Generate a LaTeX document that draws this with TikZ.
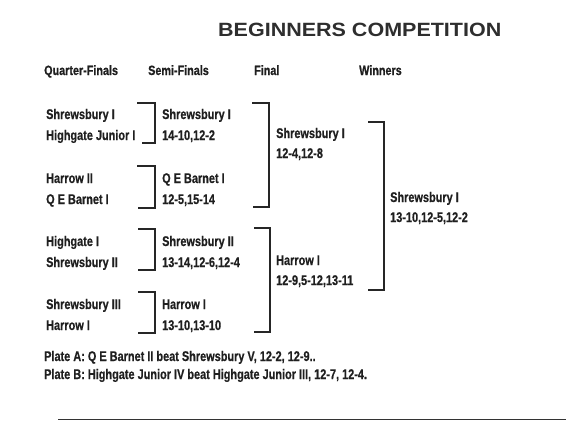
\documentclass[tikz,border=0pt]{standalone}
\usepackage{fontspec}
\setmainfont{Liberation Sans}
\newfontfamily\condfont[FakeStretch=0.78, FakeBold=0.5]{Liberation Sans}
\newfontfamily\headfont[FakeStretch=0.80, FakeBold=0.8]{Liberation Sans}
\newfontfamily\titlefont[FakeStretch=1.12]{Liberation Sans}
\usetikzlibrary{positioning}

\begin{document}
\begin{tikzpicture}[x=1pt, y=-1pt,
  team/.style    = {anchor=base west, inner sep=0pt, text=black!88,
                    font=\condfont\bfseries\fontsize{14}{16}\selectfont},
  colhead/.style = {anchor=base west, inner sep=0pt, text=black!88,
                    font=\headfont\bfseries\fontsize{13.5}{15}\selectfont},
  title/.style   = {anchor=base west, inner sep=0pt, text=black!82,
                    font=\titlefont\bfseries\fontsize{19.2}{21}\selectfont},
  bracket/.style = {line width=1.1pt, black!85}
]
\useasboundingbox (0,0) rectangle (566,431);

% title and column heads
\node[title]   (heading) at (218,37) {BEGINNERS COMPETITION};
\node[colhead] (hqf)     at (44,75)  {Quarter-Finals};
\node[colhead] (hsf)     at (148,75) {Semi-Finals};
\node[colhead] (hfin)    at (254,75) {Final};
\node[colhead] (hwin)    at (359,75) {Winners};

% quarter-finals
\node[team] (qa1) at (46,119) {Shrewsbury I};
\node[team] (qa2) at (46,140) {Highgate Junior I};
\node[team] (qb1) at (46,183) {Harrow II};
\node[team] (qb2) at (46,204) {Q E Barnet I};
\node[team] (qc1) at (46,246) {Highgate I};
\node[team] (qc2) at (46,267) {Shrewsbury II};
\node[team] (qd1) at (46,309) {Shrewsbury III};
\node[team] (qd2) at (46,330) {Harrow I};

% semi-finals
\node[team] (sa1) at (162,119) {Shrewsbury I};
\node[team] (sa2) at (162,140) {14-10,12-2};
\node[team] (sb1) at (162,183) {Q E Barnet I};
\node[team] (sb2) at (162,204) {12-5,15-14};
\node[team] (sc1) at (162,246) {Shrewsbury II};
\node[team] (sc2) at (162,267) {13-14,12-6,12-4};
\node[team] (sd1) at (162,309) {Harrow I};
\node[team] (sd2) at (162,330) {13-10,13-10};

% final
\node[team] (fa1) at (276,138) {Shrewsbury I};
\node[team] (fa2) at (276,158) {12-4,12-8};
\node[team] (fb1) at (276,265) {Harrow I};
\node[team] (fb2) at (276,285) {12-9,5-12,13-11};

% winners
\node[team] (w1) at (390,202) {Shrewsbury I};
\node[team] (w2) at (390,222) {13-10,12-5,12-2};

% plates
\node[team] (platea) at (44,361) {Plate A: Q E Barnet II beat Shrewsbury V, 12-2, 12-9..};
\node[team] (plateb) at (44,379) {Plate B: Highgate Junior IV beat Highgate Junior III, 12-7, 12-4.};

% brackets
\draw[bracket] (137,103) -| (155,143) -- (142,143);
\draw[bracket] (137,166) -| (155,208) -- (138,208);
\draw[bracket] (138,229) -| (155,270) -- (138,270);
\draw[bracket] (138,292) -| (155,333) -- (138,333);
\draw[bracket] (252,103) -| (269,207) -- (253,207);
\draw[bracket] (254,228) -| (270,332) -- (254,332);
\draw[bracket] (368,122) -| (384,290) -- (368,290);

% rule at foot
\draw[line width=1pt, black!80] (58,419) -- (566,419);
\end{tikzpicture}
\end{document}
